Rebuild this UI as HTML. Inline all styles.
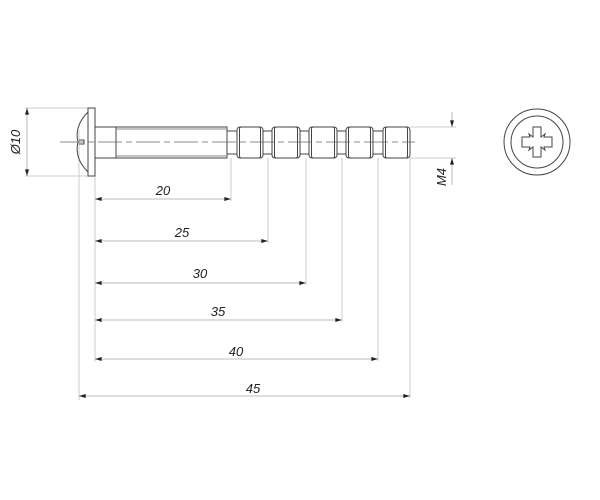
<!DOCTYPE html>
<html><head><meta charset="utf-8"><style>html,body{margin:0;padding:0;background:#fff;}svg{display:block}</style></head>
<body>
<svg width="600" height="500" viewBox="0 0 600 500" xmlns="http://www.w3.org/2000/svg">
<defs>
<marker id="a" viewBox="0 0 10 6" refX="10" refY="3" markerWidth="7" markerHeight="4" orient="auto-start-reverse" markerUnits="userSpaceOnUse"><path d="M0,0 L10,3 L0,6 Z" fill="#222"/></marker>
</defs>
<g stroke="#ccc" stroke-width="1" fill="none">
<!-- extension lines -->
<line x1="95" y1="176" x2="95" y2="362"/>
<line x1="79" y1="130" x2="79" y2="400"/>
<line x1="231" y1="158" x2="231" y2="201"/>
<line x1="268" y1="158" x2="268" y2="243"/>
<line x1="306" y1="158" x2="306" y2="285"/>
<line x1="342" y1="158" x2="342" y2="322"/>
<line x1="378" y1="158" x2="378" y2="361"/>
<line x1="410" y1="158" x2="410" y2="398"/>
<line x1="25" y1="108" x2="88" y2="108"/>
<line x1="25" y1="176" x2="88" y2="176"/>
<line x1="410" y1="127" x2="456" y2="127"/>
<line x1="410" y1="158" x2="456" y2="158"/>
</g>
<g stroke="#bbb" stroke-width="1" fill="none">
<line x1="95" y1="199" x2="231" y2="199" marker-start="url(#a)" marker-end="url(#a)"/>
<line x1="95" y1="241" x2="268" y2="241" marker-start="url(#a)" marker-end="url(#a)"/>
<line x1="95" y1="283" x2="306" y2="283" marker-start="url(#a)" marker-end="url(#a)"/>
<line x1="95" y1="320" x2="342" y2="320" marker-start="url(#a)" marker-end="url(#a)"/>
<line x1="95" y1="359" x2="378" y2="359" marker-start="url(#a)" marker-end="url(#a)"/>
<line x1="79" y1="396" x2="410" y2="396" marker-start="url(#a)" marker-end="url(#a)"/>
<line x1="27" y1="108" x2="27" y2="176" marker-start="url(#a)" marker-end="url(#a)"/>
<line x1="452" y1="112" x2="452" y2="127" marker-end="url(#a)"/>
<line x1="452" y1="185" x2="452" y2="158" marker-end="url(#a)"/>
</g>
<!-- screw -->
<g stroke="#444" stroke-width="1" fill="none">
<rect x="88" y="108" width="7" height="68"/>
<path d="M88,112 Q74,126 78,142 Q74,158 88,172"/>
<path d="M79,140 L84,140 L84,144 L79,144"/>
<line x1="95" y1="127" x2="116" y2="127"/>
<line x1="95" y1="158" x2="116" y2="158"/>
<rect x="116" y="127" width="111" height="31"/>
<line x1="116" y1="129" x2="227" y2="129" stroke="#888"/>
<line x1="116" y1="156" x2="227" y2="156" stroke="#888"/>
<line x1="227" y1="131" x2="237" y2="131"/>
<line x1="227" y1="154" x2="237" y2="154"/>
<rect x="237" y="127" width="26" height="31" rx="3"/>
<rect x="239.5" y="127" width="21" height="31" rx="2"/>
<line x1="263" y1="131" x2="272" y2="131"/><line x1="263" y1="154" x2="272" y2="154"/>
<rect x="272" y="127" width="28" height="31" rx="3"/>
<rect x="274.5" y="127" width="23" height="31" rx="2"/>
<line x1="300" y1="131" x2="309" y2="131"/><line x1="300" y1="154" x2="309" y2="154"/>
<rect x="309" y="127" width="28" height="31" rx="3"/>
<rect x="311.5" y="127" width="23" height="31" rx="2"/>
<line x1="337" y1="131" x2="346" y2="131"/><line x1="337" y1="154" x2="346" y2="154"/>
<rect x="346" y="127" width="27" height="31" rx="3"/>
<rect x="348.5" y="127" width="22" height="31" rx="2"/>
<line x1="373" y1="131" x2="383" y2="131"/><line x1="373" y1="154" x2="383" y2="154"/>
<rect x="383" y="127" width="27" height="31" rx="3"/>
<rect x="385.5" y="127" width="22" height="31" rx="2"/>
</g>
<line x1="60" y1="142" x2="415" y2="142" stroke="#666" stroke-width="0.8" stroke-dasharray="24,4,6,4"/>
<!-- end view -->
<g stroke="#444" stroke-width="1" fill="none">
<circle cx="537" cy="142" r="33"/>
<circle cx="537" cy="142" r="26"/>
<path d="M533,127 L541,127 L541,137 L545,134 L544,137 L552,137 L552,147 L544,147 L545,150 L541,147 L541,157 L533,157 L533,147 L529,150 L530,147 L522,147 L522,137 L530,137 L529,134 L533,137 Z"/>
</g>
<g font-family="Liberation Sans, sans-serif" font-style="italic" font-size="13" fill="#222" text-anchor="middle">
<text x="163" y="195">20</text>
<text x="182" y="237">25</text>
<text x="200" y="278">30</text>
<text x="218" y="316">35</text>
<text x="236" y="356">40</text>
<text x="253" y="393">45</text>
<text transform="translate(20,142) rotate(-90)">Ø10</text>
<text transform="translate(446,177) rotate(-90)">M4</text>
</g>
</svg>
</body></html>
